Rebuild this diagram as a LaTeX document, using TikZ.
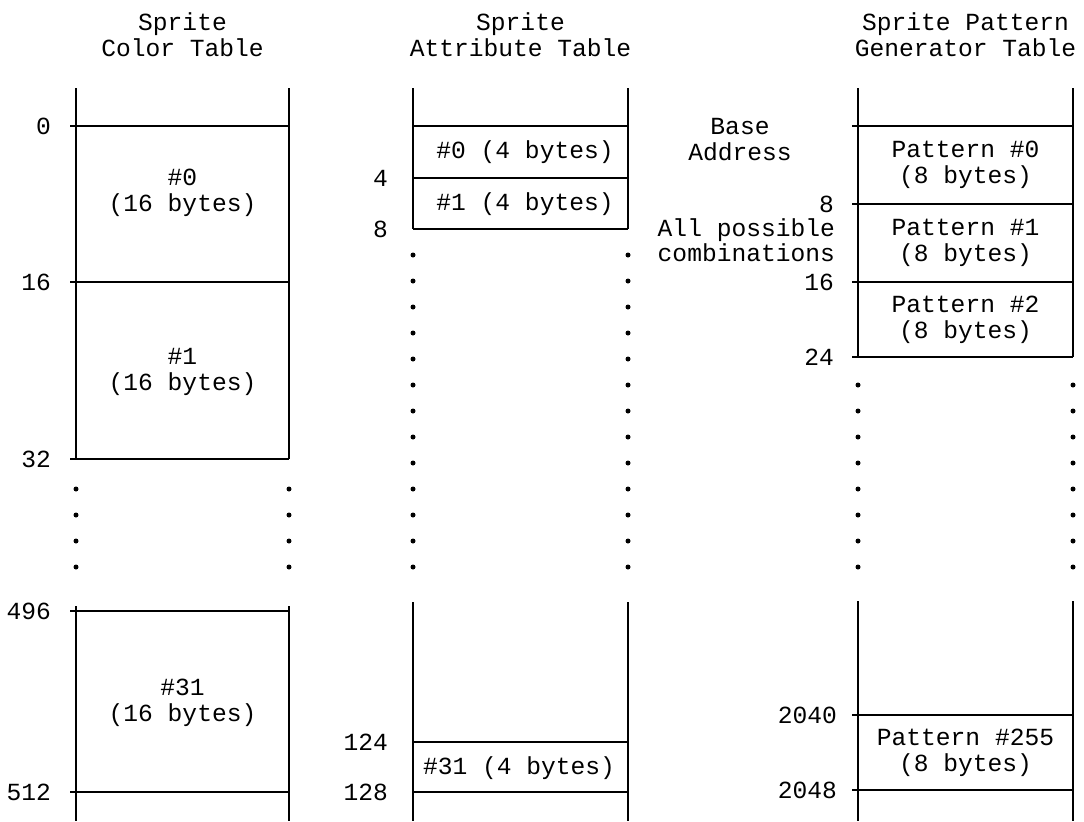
\documentclass[tikz,border=0pt]{standalone}
\usepackage{fontspec}
\setmainfont{Liberation Mono}
\usetikzlibrary{positioning}

\begin{document}
\begin{tikzpicture}[
    every node/.style={font=\fontsize{14}{14.8}\selectfont, inner sep=1pt},
    wall/.style={line width=1.6pt},
    rule/.style={line width=1.6pt},
    addr/.style={anchor=east},
    entry/.style={align=center},
    ttl/.style={align=center}
  ]
  \useasboundingbox (0,0) rectangle (21.68,-16.42);

  % table titles
  \node[ttl] (tc) at (3.65,-0.70)  {Sprite\\Color Table};
  \node[ttl] (ta) at (10.41,-0.70) {Sprite\\Attribute Table};
  \node[ttl] (tp) at (19.31,-0.70) {Sprite Pattern\\Generator Table};

  % color table
  \draw[wall] (1.52,-1.76)  -- (1.52,-9.18);
  \draw[wall] (5.78,-1.76)  -- (5.78,-9.18);
  \draw[wall] (1.52,-12.12) -- (1.52,-16.42);
  \draw[wall] (5.78,-12.12) -- (5.78,-16.42);
  \foreach \y in {-2.52,-5.64,-9.18,-12.22,-15.84}
    \draw[rule] (1.40,\y) -- (5.78,\y);
  \node[addr] (c0a)   at (1.06,-2.52)  {0};
  \node[addr] (c16a)  at (1.06,-5.64)  {16};
  \node[addr] (c32a)  at (1.06,-9.18)  {32};
  \node[addr] (c496a) at (1.06,-12.22) {496};
  \node[addr] (c512a) at (1.06,-15.84) {512};
  \node[entry] (c0)  at (3.65,-3.85)  {\#0\\(16 bytes)};
  \node[entry] (c1)  at (3.65,-7.44)  {\#1\\(16 bytes)};
  \node[entry] (c31) at (3.65,-14.06) {\#31\\(16 bytes)};

  % attribute table
  \draw[wall] (8.26,-1.76)  -- (8.26,-4.58);
  \draw[wall] (12.56,-1.76) -- (12.56,-4.58);
  \draw[wall] (8.26,-12.04) -- (8.26,-16.42);
  \draw[wall] (12.56,-12.04) -- (12.56,-16.42);
  \foreach \y in {-2.52,-3.56,-4.58,-14.84,-15.84}
    \draw[rule] (8.26,\y) -- (12.56,\y);
  \node[addr] (a4)   at (7.80,-3.56)  {4};
  \node[addr] (a8)   at (7.80,-4.58)  {8};
  \node[addr] (a124) at (7.80,-14.84) {124};
  \node[addr] (a128) at (7.80,-15.84) {128};
  \node[entry] (a0)  at (10.50,-3.04)  {\#0 (4 bytes)};
  \node[entry] (a1)  at (10.50,-4.08)  {\#1 (4 bytes)};
  \node[entry] (a31) at (10.38,-15.36) {\#31 (4 bytes)};

  % notes between tables
  \node[ttl] (base) at (14.80,-2.79) {Base\\Address};
  \node[align=right, anchor=east, font=\fontsize{14}{12}\selectfont]
    (comb) at (16.74,-4.80) {All possible\\combinations};

  % pattern generator table
  \draw[wall] (17.16,-1.76)  -- (17.16,-7.14);
  \draw[wall] (21.46,-1.76)  -- (21.46,-7.14);
  \draw[wall] (17.16,-12.02) -- (17.16,-16.42);
  \draw[wall] (21.46,-12.02) -- (21.46,-16.42);
  \foreach \y in {-2.52,-4.08,-5.64,-7.14,-14.30,-15.80}
    \draw[rule] (17.04,\y) -- (21.46,\y);
  \node[addr] (p8a)    at (16.72,-4.08)  {8};
  \node[addr] (p16a)   at (16.72,-5.64)  {16};
  \node[addr] (p24a)   at (16.72,-7.14)  {24};
  \node[addr] (p2040a) at (16.78,-14.30) {2040};
  \node[addr] (p2048a) at (16.78,-15.80) {2048};
  \node[entry] (p0)   at (19.31,-3.30)  {Pattern \#0\\(8 bytes)};
  \node[entry] (p1)   at (19.31,-4.86)  {Pattern \#1\\(8 bytes)};
  \node[entry] (p2)   at (19.31,-6.40)  {Pattern \#2\\(8 bytes)};
  \node[entry] (p255) at (19.31,-15.05) {Pattern \#255\\(8 bytes)};

  % continuation dots
  \foreach \k in {9,...,12} {
    \fill (1.52,-5.10-0.52*\k) circle (0.05);
    \fill (5.78,-5.10-0.52*\k) circle (0.05);
  }
  \foreach \k in {0,...,12} {
    \fill (8.26,-5.10-0.52*\k) circle (0.05);
    \fill (12.56,-5.10-0.52*\k) circle (0.05);
  }
  \foreach \k in {5,...,12} {
    \fill (17.16,-5.10-0.52*\k) circle (0.05);
    \fill (21.46,-5.10-0.52*\k) circle (0.05);
  }
\end{tikzpicture}
\end{document}
